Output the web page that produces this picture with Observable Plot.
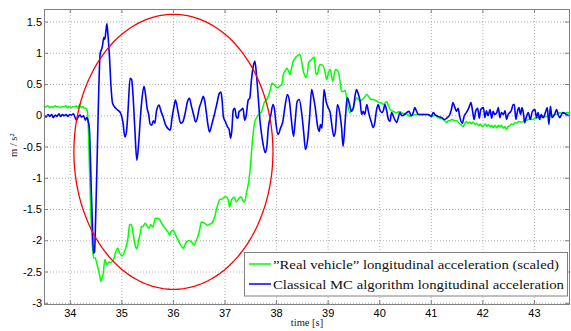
<!DOCTYPE html>
<html><head><meta charset="utf-8">
<script src="https://cdn.jsdelivr.net/npm/d3@7"></script>
<script src="https://cdn.jsdelivr.net/npm/@observablehq/plot@0.6"></script>
<style>body{margin:0;background:#fff;overflow:hidden}</style>
</head><body><div id="chart"></div>
<script>
// ---- data ----
const greenTime = [33.50,33.53,33.56,33.60,33.63,33.67,33.70,33.74,33.77,33.81,33.84,33.88,33.91,33.95,33.98,34.02,34.05,34.09,34.12,34.15,34.18,34.21,34.24,34.27,34.30,34.33,34.35,34.37,34.40,34.43,34.45,34.48,34.51,34.54,34.57,34.59,34.61,34.64,34.67,34.71,34.75,34.78,34.84,34.88,34.92,34.96,35.01,35.05,35.08,35.12,35.15,35.18,35.20,35.23,35.26,35.29,35.33,35.36,35.38,35.41,35.45,35.50,35.53,35.56,35.60,35.65,35.69,35.73,35.77,35.81,35.86,35.90,35.93,35.96,35.99,36.03,36.06,36.09,36.12,36.16,36.19,36.22,36.25,36.29,36.32,36.36,36.40,36.44,36.47,36.51,36.54,36.58,36.62,36.67,36.72,36.76,36.80,36.84,36.87,36.90,36.95,37.00,37.03,37.06,37.09,37.12,37.15,37.18,37.22,37.27,37.31,37.35,37.38,37.42,37.45,37.48,37.50,37.52,37.55,37.58,37.62,37.65,37.68,37.71,37.76,37.80,37.84,37.88,37.91,37.95,37.99,38.03,38.07,38.10,38.13,38.17,38.20,38.23,38.26,38.29,38.32,38.36,38.39,38.45,38.49,38.52,38.55,38.57,38.60,38.62,38.65,38.68,38.73,38.76,38.79,38.82,38.84,38.90,38.94,38.97,39.01,39.04,39.09,39.14,39.17,39.20,39.23,39.26,39.30,39.33,39.37,39.42,39.46,39.49,39.52,39.55,39.58,39.62,39.66,39.71,39.75,39.79,39.83,39.88,39.93,39.97,40.00,40.04,40.07,40.10,40.13,40.17,40.20,40.26,40.32,40.39,40.44,40.49,40.54,40.59,40.64,40.72,40.81,40.91,41.01,41.07,41.13,41.18,41.23,41.27,41.30,41.33,41.36,41.40,41.45,41.49,41.53,41.57,41.62,41.65,41.68,41.71,41.75,41.78,41.81,41.85,41.88,41.92,41.95,41.98,42.01,42.05,42.08,42.11,42.14,42.17,42.20,42.23,42.27,42.30,42.33,42.36,42.40,42.43,42.46,42.49,42.52,42.56,42.59,42.62,42.65,42.70,42.75,42.81,42.86,42.91,42.96,43.01,43.06,43.10,43.16,43.23,43.29,43.35,43.39,43.44,43.49,43.55,43.62,43.68];
const greenAccel = [0.16,0.14,0.16,0.13,0.15,0.13,0.16,0.14,0.15,0.13,0.15,0.14,0.16,0.13,0.15,0.13,0.15,0.14,0.16,0.12,0.18,0.13,0.15,0.12,0.12,0.08,-0.20,-0.80,-1.60,-2.10,-2.27,-2.27,-2.35,-2.45,-2.55,-2.65,-2.62,-2.52,-2.30,-2.38,-2.34,-2.35,-2.30,-2.18,-2.12,-2.20,-2.24,-2.18,-2.10,-1.95,-1.74,-1.74,-1.79,-1.95,-2.08,-2.13,-1.98,-1.87,-1.77,-1.77,-1.72,-1.78,-1.80,-1.74,-1.78,-1.64,-1.64,-1.66,-1.72,-1.77,-1.82,-1.87,-1.91,-1.85,-1.83,-1.88,-1.94,-1.98,-2.04,-2.09,-2.12,-2.07,-2.02,-2.00,-2.00,-2.03,-2.07,-2.00,-1.94,-1.82,-1.70,-1.71,-1.73,-1.75,-1.73,-1.70,-1.62,-1.48,-1.40,-1.34,-1.33,-1.30,-1.30,-1.34,-1.46,-1.36,-1.32,-1.30,-1.38,-1.32,-1.30,-1.36,-1.38,-1.22,-1.10,-0.92,-0.75,-0.51,-0.25,-0.09,-0.02,0.02,0.04,0.07,0.21,0.25,0.31,0.42,0.52,0.50,0.46,0.45,0.48,0.50,0.66,0.72,0.76,0.72,0.66,0.76,0.87,0.92,0.95,0.98,0.85,0.71,0.64,0.61,0.70,0.84,0.88,0.90,0.94,0.69,0.66,0.78,0.82,0.80,0.70,0.58,0.70,0.74,0.55,0.74,0.73,0.70,0.55,0.39,0.39,0.41,0.21,0.05,0.10,0.13,0.24,0.29,0.27,0.24,0.26,0.30,0.34,0.30,0.26,0.26,0.24,0.22,0.21,0.20,0.18,0.20,0.23,0.16,0.10,0.07,0.05,0.07,0.04,0.03,0.02,-0.01,0.01,0.02,0.02,0.02,-0.01,0.01,-0.03,-0.04,-0.06,-0.09,-0.11,-0.08,-0.08,-0.06,-0.08,-0.08,-0.11,-0.14,-0.17,-0.12,-0.09,-0.12,-0.10,-0.13,-0.10,-0.14,-0.12,-0.16,-0.13,-0.17,-0.16,-0.13,-0.17,-0.14,-0.18,-0.15,-0.19,-0.15,-0.19,-0.15,-0.18,-0.15,-0.20,-0.17,-0.22,-0.17,-0.16,-0.13,-0.14,-0.11,-0.12,-0.09,-0.10,-0.08,-0.07,-0.05,-0.06,-0.04,-0.03,-0.03,-0.02,-0.01,0.00,0.01,0.02,0.03,0.05,0.04,0.05,0.05];

const blueTime = [33.50,33.53,33.57,33.60,33.64,33.67,33.71,33.74,33.78,33.81,33.85,33.88,33.92,33.95,33.99,34.02,34.06,34.09,34.12,34.15,34.19,34.22,34.26,34.29,34.32,34.35,34.37,34.40,34.43,34.45,34.47,34.49,34.52,34.55,34.58,34.60,34.62,34.65,34.67,34.69,34.71,34.73,34.76,34.79,34.82,34.86,34.92,34.97,35.02,35.06,35.09,35.12,35.16,35.19,35.21,35.25,35.29,35.32,35.36,35.39,35.43,35.46,35.49,35.52,35.55,35.58,35.61,35.64,35.67,35.72,35.76,35.80,35.85,35.90,35.94,35.97,36.01,36.04,36.09,36.14,36.18,36.23,36.27,36.31,36.35,36.39,36.43,36.46,36.50,36.54,36.58,36.61,36.64,36.67,36.70,36.75,36.80,36.85,36.89,36.92,36.94,36.97,37.01,37.05,37.08,37.11,37.13,37.16,37.19,37.22,37.25,37.27,37.31,37.35,37.38,37.41,37.45,37.48,37.51,37.55,37.58,37.61,37.65,37.68,37.71,37.74,37.78,37.81,37.84,37.89,37.93,37.96,37.99,38.03,38.08,38.12,38.16,38.21,38.25,38.29,38.33,38.36,38.40,38.44,38.49,38.53,38.56,38.60,38.64,38.68,38.71,38.75,38.80,38.83,38.85,38.88,38.92,38.96,39.00,39.04,39.07,39.11,39.14,39.18,39.22,39.26,39.29,39.33,39.37,39.41,39.45,39.49,39.52,39.55,39.58,39.62,39.65,39.68,39.71,39.75,39.78,39.81,39.84,39.87,39.90,39.94,39.97,40.00,40.04,40.07,40.10,40.13,40.17,40.20,40.23,40.28,40.33,40.36,40.39,40.43,40.48,40.52,40.57,40.61,40.65,40.68,40.71,40.75,40.81,40.87,40.94,41.00,41.04,41.07,41.13,41.20,41.26,41.31,41.36,41.39,41.42,41.45,41.49,41.52,41.55,41.60,41.64,41.68,41.73,41.77,41.80,41.83,41.86,41.90,41.93,41.96,42.01,42.04,42.07,42.10,42.14,42.17,42.20,42.23,42.27,42.30,42.33,42.36,42.40,42.43,42.46,42.49,42.52,42.55,42.59,42.61,42.64,42.67,42.70,42.73,42.76,42.79,42.81,42.84,42.88,42.92,42.96,43.01,43.04,43.07,43.10,43.13,43.17,43.22,43.25,43.28,43.31,43.34,43.39,43.43,43.46,43.49,43.55,43.62,43.68];
const blueAccel = [0.01,-0.02,0.02,-0.01,0.02,-0.03,0.01,-0.01,0.03,-0.01,0.02,0.00,0.02,-0.01,0.02,0.01,0.03,-0.02,-0.07,-0.02,0.01,-0.02,0.00,-0.07,-0.03,-0.10,-0.20,-0.98,-1.78,-2.20,-2.18,-1.70,-0.71,0.35,1.00,1.05,1.10,1.25,1.22,1.35,1.47,1.30,0.94,0.46,0.20,0.14,0.09,0.05,-0.10,-0.34,-0.25,0.09,0.60,0.58,0.41,-0.18,-0.71,-0.50,-0.02,0.27,0.47,0.33,0.12,0.02,-0.14,-0.15,-0.08,-0.12,0.07,0.17,0.07,-0.02,-0.15,-0.21,-0.23,-0.05,0.14,0.25,0.06,-0.12,-0.10,0.05,0.22,0.28,0.15,0.02,-0.10,-0.05,0.12,0.22,0.31,0.22,0.04,-0.15,-0.26,-0.12,0.04,0.22,0.36,0.38,0.28,-0.02,-0.10,-0.18,-0.22,-0.36,-0.26,0.09,0.12,-0.02,-0.04,0.06,0.09,0.12,-0.07,0.00,0.25,0.28,0.55,0.80,0.87,0.66,0.23,-0.09,-0.30,-0.46,-0.59,-0.50,-0.19,0.02,0.18,0.10,-0.14,-0.30,-0.19,-0.10,0.13,0.34,0.23,-0.09,-0.33,-0.09,0.23,0.26,0.02,-0.30,-0.54,-0.40,-0.03,0.42,0.32,0.13,-0.19,-0.25,-0.14,-0.20,0.42,0.23,0.13,0.05,-0.14,-0.33,-0.25,0.18,0.07,-0.19,-0.49,-0.09,0.29,0.20,0.07,0.13,0.31,0.42,0.36,0.23,0.02,0.07,0.02,0.18,0.07,-0.03,-0.11,-0.19,-0.13,0.10,0.18,0.10,0.05,0.08,0.18,0.10,-0.06,-0.09,0.05,-0.04,-0.11,-0.03,0.05,0.00,0.02,0.05,0.07,0.00,0.05,0.13,0.08,0.02,0.02,0.02,0.02,-0.01,0.05,0.02,-0.01,-0.03,-0.06,-0.03,0.02,0.10,0.21,0.15,0.07,0.12,-0.01,-0.12,0.00,0.05,0.13,0.21,0.08,-0.06,0.07,0.12,-0.04,0.10,0.13,-0.03,0.08,0.00,0.10,-0.04,0.07,0.02,0.05,0.13,-0.03,0.05,0.02,0.08,-0.06,0.02,0.05,0.08,0.18,0.18,-0.06,0.07,0.13,0.02,0.13,0.02,-0.11,-0.03,0.05,-0.06,0.07,0.10,-0.03,0.05,-0.06,0.02,-0.03,0.07,0.13,-0.14,0.15,-0.03,0.02,0.10,0.02,-0.03,0.05,0.02,0.00];

const seriesNames = ["\u201DReal vehicle\u201D longitudinal acceleration (scaled)", "Classical MC algorithm longitudinal acceleration"];
const seriesColors = ["#00ff00", "#0000ff"];
const xTicks = [34, 35, 36, 37, 38, 39, 40, 41, 42, 43];
const yTicks = [-3, -2.5, -2, -1.5, -1, -0.5, 0, 0.5, 1, 1.5];
const xLabel = "time [s]";
const yLabel = "m / s\u00B2";
// highlight ellipse annotation (center and radii, in data units)
const ellipseCenter = [36.0, -0.577];
const ellipseRadii = [1.93, 2.2];

// ---- build ----
const green = greenTime.map((t, i) => ({t, v: greenAccel[i]}));
const blue = blueTime.map((t, i) => ({t, v: blueAccel[i]}));
const ellipse = d3.range(0, 361, 2).map(a => {
  const r = a * Math.PI / 180;
  return {t: ellipseCenter[0] + ellipseRadii[0] * Math.cos(r), v: ellipseCenter[1] + ellipseRadii[1] * Math.sin(r)};
});

const W = 571, H = 331, mL = 44, mR = 2, mT = 9, mB = 27;
const innerW = W - mL - mR, innerH = H - mT - mB, tick = 4;
const serif = "'Liberation Serif', 'DejaVu Serif', serif";
const axisColor = "#808080";

const plot = Plot.plot({
  width: W, height: H,
  marginLeft: mL, marginRight: mR, marginTop: mT, marginBottom: mB,
  x: {domain: [33.5, 43.68]},
  y: {domain: [-3.02, 1.7]},
  style: {background: "#fff", fontFamily: "'Liberation Sans', Arial, sans-serif", fontSize: "11px", color: "#000", overflow: "visible"},
  marks: [
    Plot.gridX(xTicks, {stroke: "#b0b0b0", strokeOpacity: 1, strokeDasharray: "1,2", strokeWidth: 1}),
    Plot.gridY(yTicks, {stroke: "#b0b0b0", strokeOpacity: 1, strokeDasharray: "1,2", strokeWidth: 1}),
    Plot.line(green, {x: "t", y: "v", stroke: seriesColors[0], strokeWidth: 1.5, curve: "monotone-x"}),
    Plot.line(blue, {x: "t", y: "v", stroke: seriesColors[1], strokeWidth: 1.6, curve: "monotone-x"}),
    Plot.line(ellipse, {x: "t", y: "v", stroke: "#ff0000", strokeWidth: 1.3}),
    Plot.ruleX(xTicks, {insetTop: innerH - tick, stroke: axisColor}),
    Plot.ruleX(xTicks, {insetBottom: innerH - tick, stroke: axisColor}),
    Plot.ruleY(yTicks, {insetRight: innerW - tick, stroke: axisColor}),
    Plot.ruleY(yTicks, {insetLeft: innerW - tick, stroke: axisColor}),
    Plot.frame({stroke: axisColor}),
    Plot.axisX(xTicks, {tickSize: 0, tickPadding: 4.5, label: null, tickFormat: d => String(d)}),
    Plot.axisY(yTicks, {tickSize: 0, tickPadding: 2.5, label: null, tickFormat: d => String(d)}),
    Plot.text([xLabel], {frameAnchor: "bottom", dy: 21.5, fontFamily: serif, fontSize: 10.5, fill: "#222"}),
    Plot.text([yLabel], {frameAnchor: "left", dx: -31, rotate: -90, fontFamily: serif, fontSize: 10.5, fill: "#222"})
  ]
});

// legend (drawn inside the axes, lower right)
const svg = d3.select(plot);
const lg = svg.append("g").attr("text-anchor", "start");
const box = {x: 244.5, y: 252.5, w: 323, h: 43.5};
lg.append("rect").attr("x", box.x).attr("y", box.y).attr("width", box.w).attr("height", box.h)
  .attr("fill", "#fff").attr("stroke", axisColor);
const widths = [286, 291];
seriesNames.forEach((name, i) => {
  const cy = 264 + i * 20;
  lg.append("line").attr("x1", 249).attr("x2", 271).attr("y1", cy).attr("y2", cy)
    .attr("stroke", seriesColors[i]).attr("stroke-width", 1.5);
  lg.append("text").attr("x", 273).attr("y", cy).attr("dy", "0.36em")
    .attr("text-anchor", "start")
    .attr("font-family", serif).attr("font-size", 12.5).attr("fill", "#111")
    .attr("textLength", widths[i]).attr("lengthAdjust", "spacingAndGlyphs")
    .text(name);
});

document.getElementById("chart").appendChild(plot);
</script>
</body></html>
